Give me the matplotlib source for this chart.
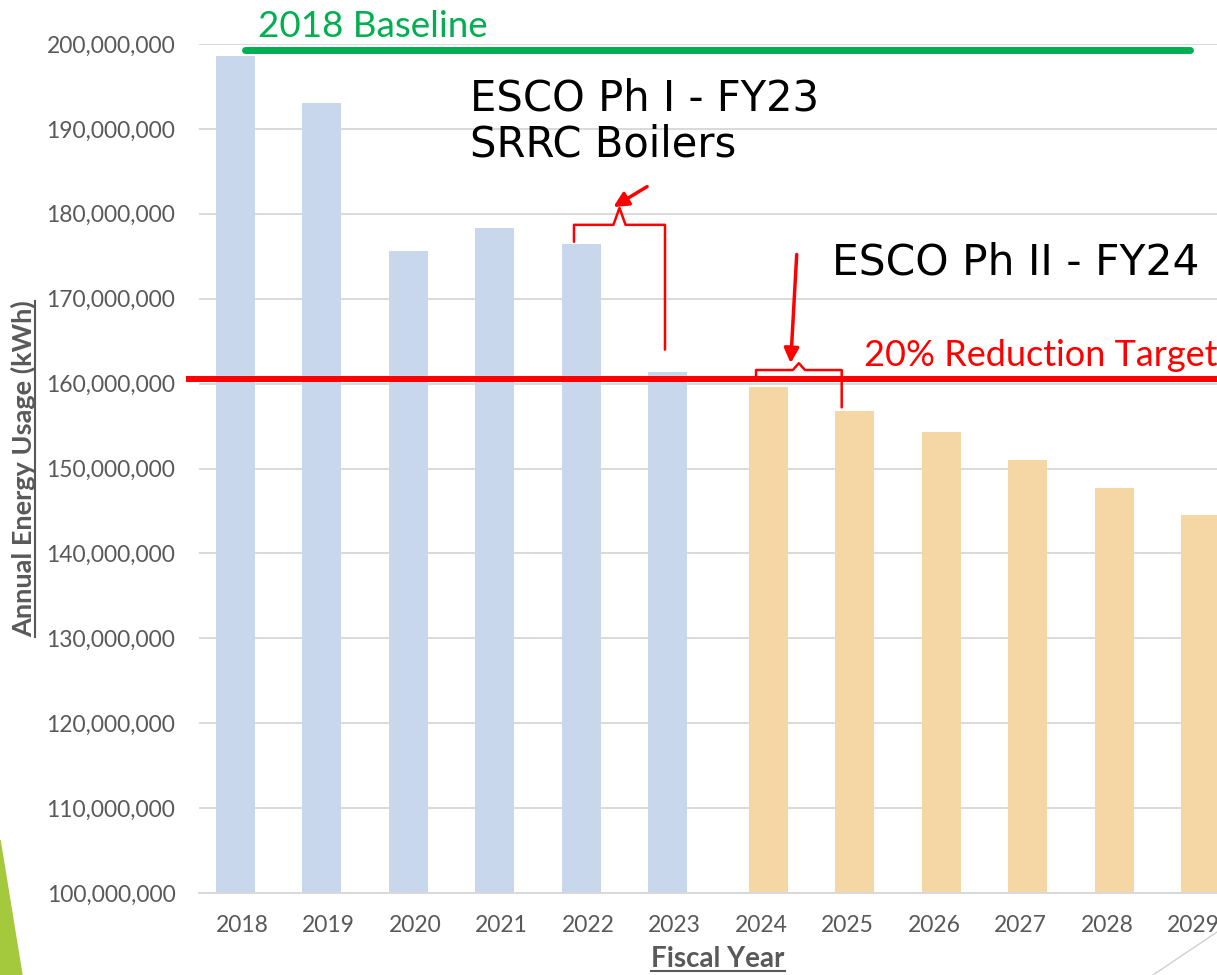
#!/usr/bin/env python3

import matplotlib
matplotlib.use("Agg")
import matplotlib.pyplot as plt
from matplotlib.lines import Line2D
from matplotlib.patches import Polygon
from matplotlib.ticker import FuncFormatter, MultipleLocator
from matplotlib.transforms import IdentityTransform

# data
years = [2018, 2019, 2020, 2021, 2022, 2023, 2024, 2025, 2026, 2027, 2028, 2029]
actual = [198.6e6, 193.05e6, 175.65e6, 178.3e6, 176.5e6, 161.4e6]
projected = [159.6e6, 156.8e6, 154.3e6, 151.0e6, 147.7e6, 144.5e6]
baseline_level = 199.25e6
target_level = 160.6e6

BLUE = "#C9D7EC"
TAN = "#F5D7A5"
GREEN = "#00B050"
RED = "#FF0000"
GREY = "#595959"

W, H = 1217, 975
plt.rcParams["font.family"] = ["Lato", "DejaVu Sans"]


def px(x, y):
    # image pixel -> figure fraction
    return x / W, 1 - y / H


def bracket(ax, x0, x1, y_h, y_peak, y_l, y_r):
    xc = (x0 + x1) / 2
    d = 0.07
    xs = [x0, x0, xc - d, xc, xc + d, x1, x1]
    ys = [y_l, y_h, y_h, y_peak, y_h, y_h, y_r]
    ax.plot(xs, ys, color=RED, lw=1.8, solid_joinstyle="round",
            solid_capstyle="round", clip_on=False, zorder=5)


def main():
    fig = plt.figure(figsize=(W / 100, H / 100), dpi=100)
    ax = fig.add_axes([199 / W, 82 / H, 1038 / W, 849 / H])

    n_act = len(actual)
    x_act = [i - 0.08 for i in range(n_act)]
    x_proj = [i + n_act + 0.08 for i in range(len(projected))]
    ax.bar(x_act, actual, width=0.45, color=BLUE, zorder=2)
    ax.bar(x_proj, projected, width=0.45, color=TAN, zorder=2)

    ax.set_xlim(-0.5, len(years) - 0.5)
    ax.set_ylim(100e6, 200e6)
    ax.set_xticks(range(len(years)))
    ax.set_xticklabels([str(y) for y in years])
    ax.yaxis.set_major_locator(MultipleLocator(10e6))
    ax.yaxis.set_major_formatter(FuncFormatter(lambda v, p: f"{v:,.0f}"))
    ax.tick_params(axis="both", length=0, labelsize=16.5, colors=GREY)
    ax.tick_params(axis="y", pad=17)
    ax.tick_params(axis="x", pad=16)
    ax.grid(axis="y", color="#D9D9D9", lw=1.4)
    ax.set_axisbelow(True)
    for s in ["top", "right", "left"]:
        ax.spines[s].set_visible(False)
    ax.spines["bottom"].set_color("#D9D9D9")
    ax.spines["bottom"].set_linewidth(1.4)

    # baseline and target lines
    ax.plot([0.03, 10.96], [baseline_level] * 2, color=GREEN, lw=5,
            solid_capstyle="round", clip_on=False, zorder=4)
    ax.plot([-0.61, 12], [target_level] * 2, color=RED, lw=4.3,
            clip_on=False, zorder=4)
    ax.text(0.18, 200.8e6, "2018 Baseline", color=GREEN, fontsize=26.5,
            va="baseline", ha="left", clip_on=False)
    ax.text(7.19, 162.1e6, "20% Reduction Target", color=RED, fontsize=26,
            va="baseline", ha="left", clip_on=False)

    # ESCO annotations
    ax.text(2.63, 192.2e6, "ESCO Ph I - FY23", fontsize=30,
            family="DejaVu Sans", va="baseline", ha="left")
    ax.text(2.63, 186.7e6, "SRRC Boilers", fontsize=30,
            family="DejaVu Sans", va="baseline", ha="left")
    ax.text(6.82, 172.8e6, "ESCO Ph II - FY24", fontsize=30.5,
            family="DejaVu Sans", va="baseline", ha="left")

    bracket(ax, 3.835, 4.887, 178.7e6, 180.7e6, 176.7e6, 164.0e6)
    bracket(ax, 5.94, 6.93, 161.6e6, 162.4e6, 160.9e6, 157.2e6)
    arrow = dict(arrowstyle="-|>", color=RED, lw=2.5, mutation_scale=22,
                 shrinkA=0, shrinkB=0)
    ax.annotate("", xy=(4.29, 180.8e6), xytext=(4.68, 183.2e6),
                arrowprops=arrow, annotation_clip=False)
    ax.annotate("", xy=(6.34, 162.4e6), xytext=(6.41, 175.2e6),
                arrowprops=arrow, annotation_clip=False)

    # axis titles, underlined
    ylab = fig.text(*px(23, 469), "Annual Energy Usage (kWh)", rotation=90,
                    ha="center", va="center", fontsize=19.5, fontweight="bold",
                    color=GREY)
    xlab = fig.text(*px(718, 959), "Fiscal Year", ha="center", va="center",
                    fontsize=20, fontweight="bold", color=GREY)

    # slide decorations
    fig.patches.append(Polygon([px(0, 840), px(22, 975), px(0, 975)],
                               closed=True, color="#A5C93D",
                               transform=fig.transFigure))
    fig.add_artist(Line2D([1153 / W, 1.0], [0, 1 - 932 / H], color="#D0D0D0",
                          lw=1, transform=fig.transFigure))

    fig.canvas.draw()
    r = fig.canvas.get_renderer()
    b = ylab.get_window_extent(r)
    fig.add_artist(Line2D([b.x1 - 1, b.x1 - 1], [b.y0, b.y1], color=GREY,
                          lw=1.5, transform=IdentityTransform()))
    b = xlab.get_window_extent(r)
    fig.add_artist(Line2D([b.x0, b.x1], [b.y0 + 1, b.y0 + 1], color=GREY,
                          lw=1.5, transform=IdentityTransform()))

    fig.savefig("out.png", dpi=100)


if __name__ == "__main__":
    main()
